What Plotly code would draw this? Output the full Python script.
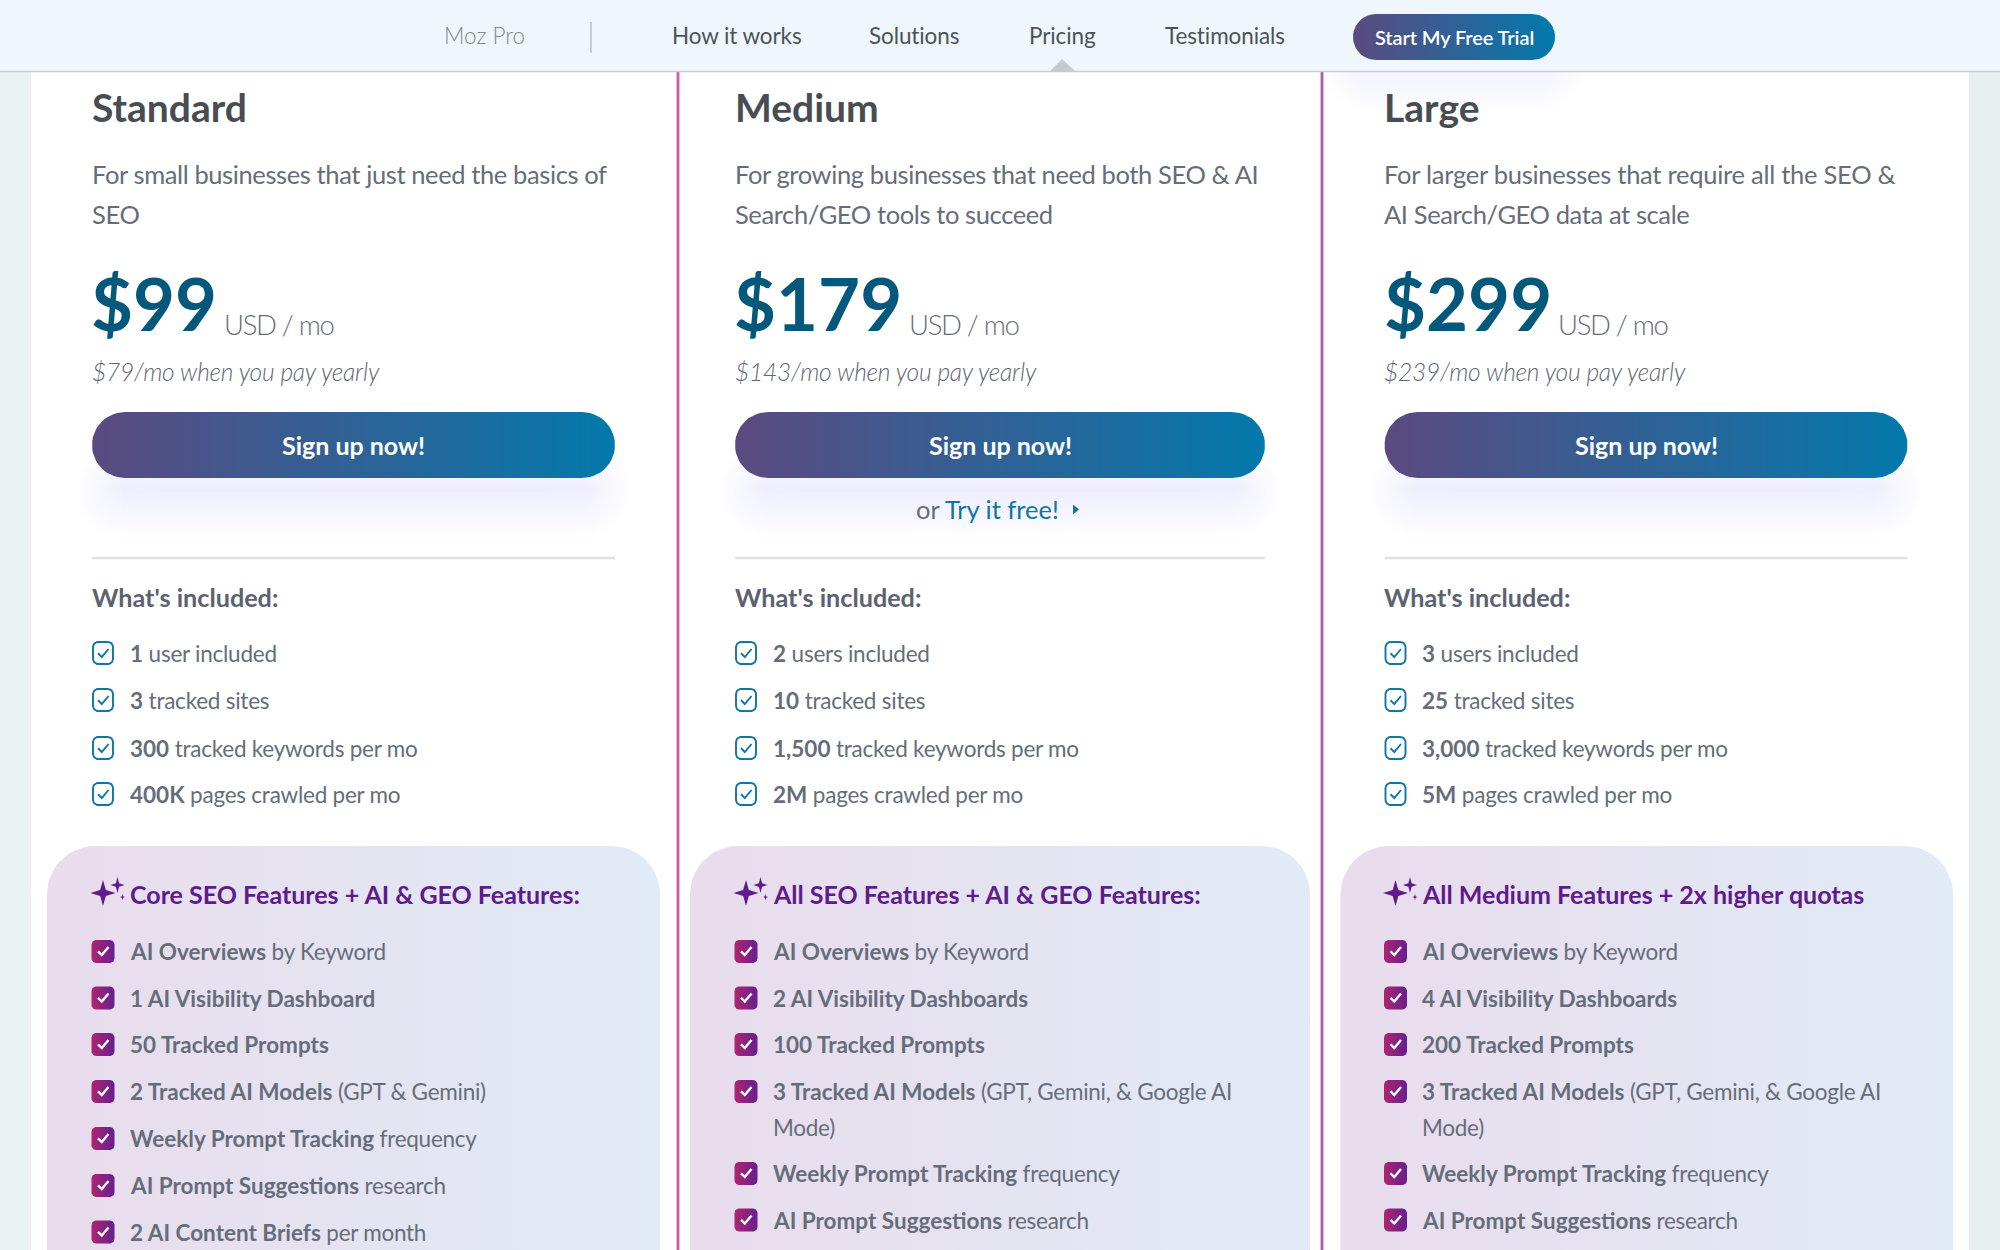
import json
import numpy as np
import plotly.graph_objects as go

# ---------- content ----------
nav_labels = ["Moz Pro", "How it works", "Solutions", "Pricing", "Testimonials"]
nav_x = [444, 672, 869, 1029, 1165]
nav_cta = "Start My Free Trial"

plan_names = ["Standard", "Medium", "Large"]
plan_desc = [
    ["For small businesses that just need the basics of", "SEO"],
    ["For growing businesses that need both SEO & AI", "Search/GEO tools to succeed"],
    ["For larger businesses that require all the SEO &", "AI Search/GEO data at scale"],
]
plan_prices = ["$99", "$179", "$299"]
plan_yearly = ["$79/mo when you pay yearly", "$143/mo when you pay yearly", "$239/mo when you pay yearly"]
included_rows = [
    [("1", "user included"), ("3", "tracked sites"), ("300", "tracked keywords per mo"), ("400K", "pages crawled per mo")],
    [("2", "users included"), ("10", "tracked sites"), ("1,500", "tracked keywords per mo"), ("2M", "pages crawled per mo")],
    [("3", "users included"), ("25", "tracked sites"), ("3,000", "tracked keywords per mo"), ("5M", "pages crawled per mo")],
]
panel_titles = ["Core SEO Features + AI & GEO Features:", "All SEO Features + AI & GEO Features:", "All Medium Features + 2x higher quotas"]
panel_rows = [
    [("AI Overviews", " by Keyword"), ("1 AI Visibility Dashboard", ""), ("50 Tracked Prompts", ""),
     ("2 Tracked AI Models", " (GPT & Gemini)"), ("Weekly Prompt Tracking", " frequency"),
     ("AI Prompt Suggestions", " research"), ("2 AI Content Briefs", " per month")],
    [("AI Overviews", " by Keyword"), ("2 AI Visibility Dashboards", ""), ("100 Tracked Prompts", ""),
     ("3 Tracked AI Models", " (GPT, Gemini, & Google AI|Mode)"), ("Weekly Prompt Tracking", " frequency"),
     ("AI Prompt Suggestions", " research")],
    [("AI Overviews", " by Keyword"), ("4 AI Visibility Dashboards", ""), ("200 Tracked Prompts", ""),
     ("3 Tracked AI Models", " (GPT, Gemini, & Google AI|Mode)"), ("Weekly Prompt Tracking", " frequency"),
     ("AI Prompt Suggestions", " research")],
]

# ---------- layout constants ----------
col_left = [92, 735, 1384.5]
col_right = [615, 1265, 1907.5]
text_left = [130.2, 773.2, 1422.2]
panel_left = [47, 690, 1340.5]
panel_right = [660, 1310, 1953]
usd_x = [224.5, 909, 1558]
desc_ls = [-0.39, -0.39, -0.26]
FONT = "Lato"
INK = "#474d52"
BODY = "#666d7a"
STRONG = "#5c6270"
TEAL = "#04587c"
BLUE = "#0f76a6"
PURPLE = "#5f1a8e"
GRAD = [[0, "#5b4a80"], [1, "#0379ac"]]

fig = go.Figure()
notes = []
spacing = []


def rr(x0, y0, x1, y1, r):
    xs, ys = [], []
    for cx, cy, a0 in [(x1 - r, y0 + r, -90), (x1 - r, y1 - r, 0), (x0 + r, y1 - r, 90), (x0 + r, y0 + r, 180)]:
        t = np.radians(np.linspace(a0, a0 + 90, 14))
        xs += list(cx + r * np.cos(t))
        ys += list(cy + r * np.sin(t))
    return xs + xs[:1], ys + ys[:1]


def poly(xs, ys, fill=None, grad=None):
    kw = dict(fillgradient=dict(type="horizontal", colorscale=grad)) if grad else dict(fillcolor=fill)
    fig.add_trace(go.Scatter(x=xs, y=ys, mode="lines", fill="toself", line=dict(width=0), hoverinfo="skip", **kw))


def stroke(xs, ys, color, width):
    fig.add_trace(go.Scatter(x=xs, y=ys, mode="lines", line=dict(color=color, width=width), hoverinfo="skip"))


def txt(x, y, s, size, color, weight=400, anchor="left", italic=False, ls=0):
    notes.append(dict(x=x - 1.4 if anchor == "left" else x, y=y - 1, text=s, showarrow=False, xanchor=anchor, align=anchor,
                      yanchor="middle", borderpad=0,
                      font=dict(family=FONT, size=size, color=color, weight=weight, style="italic" if italic else "normal")))
    spacing.append(ls)


def shadow(x0, y0, x1, y1, r, color, n=18, drop=45):
    for i in range(n):
        d = 16 - 48 * i / (n - 1)
        poly(*rr(x0 - d, y0 + drop - d, x1 + d, y1 + drop + d, r + max(d, 0)), fill=color)


def star(cx, cy, rx, ry, color):
    xs, ys = [], []
    for k in range(4):
        a = np.radians(90 * k - 90)
        b = a + np.radians(45)
        xs += [cx + rx * np.cos(a), cx + 0.32 * rx * np.cos(b)]
        ys += [cy + ry * np.sin(a), cy + 0.32 * ry * np.sin(b)]
    poly(xs + xs[:1], ys + ys[:1], fill=color)


def tick(cx, cy, color, width):
    stroke([cx - 5, cx - 1.2, cx + 5.5], [cy + 0.3, cy + 4, cy - 4], color, width)


# ---------- page ----------
poly([0, 31, 31, 0, 0], [0, 0, 1250, 1250, 0], fill="#e9f2f3")
poly([1969, 2000, 2000, 1969, 1969], [0, 0, 1250, 1250, 0], fill="#e7f0f1")
poly([31, 1969, 1969, 31, 31], [0, 0, 1250, 1250, 0], fill="#ffffff")

stroke([678, 678], [71, 1250], "#d455a6", 2.8)
stroke([1322, 1322], [71, 1250], "#b455b5", 2.8)

# CTA soft glow falls under the bar
for i in range(10):
    d = 34 - 3 * i
    poly(*rr(1353 - d, 30 - d, 1555 + d, 78 + d, 23 + d), fill="rgba(130,110,200,0.006)")

for c in range(3):
    x0, x1 = col_left[c], col_right[c]
    txt(x0, 108, f"<b>{plan_names[c]}</b>", 39, INK)
    txt(x0, 174.5, plan_desc[c][0], 25.5, BODY, ls=desc_ls[c])
    txt(x0, 215, plan_desc[c][1], 25.5, BODY, ls=-0.39)
    txt(x0 - 0.5, 303, f"<b>{plan_prices[c]}</b>", 72.5, TEAL)
    txt(usd_x[c], 325.5, "USD / mo", 27.5, BODY, weight=300, ls=-1.3)
    txt(x0, 372, plan_yearly[c], 24.5, "#5f6672", weight=300, italic=True, ls=-0.2)

    shadow(x0, 412, x1, 478, 33, "rgba(110,80,200,0.0032)")
    poly(*rr(x0, 412, x1, 478, 33), grad=GRAD)
    txt((x0 + x1) / 2, 446, "<b>Sign up now!</b>", 25, "#ffffff", anchor="center")

    stroke([x0, x1], [558, 558], "#dfe2e3", 2.5)
    txt(x0, 598, "<b>What's included:</b>", 25.2, STRONG)

    for y, (b, r) in zip([653, 700, 748, 794], included_rows[c]):
        stroke(*rr(x0 + 1, y - 11, x0 + 21, y + 11, 5), BLUE, 1.9)
        tick(x0 + 11, y, BLUE, 1.9)
        txt(text_left[c], y + 1, f"<b>{b}</b> {r}", 22.5, BODY, ls=-0.24)

    poly(*rr(panel_left[c], 846, panel_right[c], 1400, 48), grad=[[0, "#e9dcec"], [1, "#e1ebf6"]])
    star(x0 + 11, 893, 12.5, 13, PURPLE)
    star(x0 + 25.5, 885, 7, 8, PURPLE)
    star(x0 + 30.5, 897, 2.5, 3.5, PURPLE)
    txt(text_left[c], 895, f"<b>{panel_titles[c]}</b>", 25, PURPLE)

    y_seq = [952, 998.5, 1045, 1092, 1139, 1186, 1232.5]
    y_wrap = [952, 998.5, 1045, 1092, 1174, 1220.5]
    seq = y_seq if c == 0 else y_wrap
    for y, (b, r) in zip(seq, panel_rows[c]):
        poly(*rr(x0 - 0.5, y - 12, x0 + 22.5, y + 11, 4.5), grad=[[0, "#ae2570"], [1, "#661f90"]])
        tick(x0 + 11, y - 1, "#ffffff", 2.4)
        first, *rest = r.split("|")
        txt(text_left[c], y + 0.5, f"<b>{b}</b>{first}", 22.5, BODY, ls=-0.27)
        if rest:
            txt(text_left[c], y + 36, rest[0], 22.5, BODY, ls=-0.27)

# Medium only: try-it link
txt(916, 510, "or", 25.5, "#666c78")
txt(945, 510, "Try it free!", 25.5, BLUE)
poly([1073, 1079, 1073, 1073], [504.5, 509.5, 514.5, 504.5], fill=BLUE)

# ---------- nav ----------
poly([0, 2000, 2000, 0, 0], [0, 0, 71, 71, 0], fill="#f0f7fc")
stroke([0, 2000], [71.5, 71.5], "#c6cbce", 1.6)
poly([1050, 1062, 1075, 1050], [71, 59, 71, 71], fill="#c3cdcd")
stroke([591, 591], [22, 53], "#b5bcbf", 1.4)
for i, (s, x) in enumerate(zip(nav_labels, nav_x)):
    txt(x, 36.5, s, 22.5, "#7f8a8f" if i == 0 else "#4c5358", weight=300 if i == 0 else 400, ls=0 if i == 0 else -0.1)
poly(*rr(1353, 14, 1555, 60, 23), grad=GRAD)
txt(1454, 38, nav_cta, 20, "#ffffff", anchor="center", weight=600, ls=-0.1)

fig.update_layout(
    width=2000, height=1250, margin=dict(l=0, r=0, t=0, b=0), showlegend=False,
    paper_bgcolor="#ffffff", plot_bgcolor="#ffffff", annotations=notes,
    xaxis=dict(range=[0, 2000], visible=False, fixedrange=True),
    yaxis=dict(range=[1250, 0], visible=False, fixedrange=True),
)
post = """
document.body.style.margin='0';document.body.style.overflow='hidden';
var s=document.createElement('style');
s.textContent='.annotation-text tspan[style*="bold"]{letter-spacing:0}';
document.head.appendChild(s);
var LS=%s;
document.querySelectorAll('.annotation').forEach(function(a){
  var t=a.querySelector('.annotation-text');
  var v=LS[+a.getAttribute('data-index')];
  if(t&&v){t.style.letterSpacing=v+'px';}
});
""" % json.dumps(spacing)
fig.write_html("out.html", config=dict(displayModeBar=False), post_script=post)
